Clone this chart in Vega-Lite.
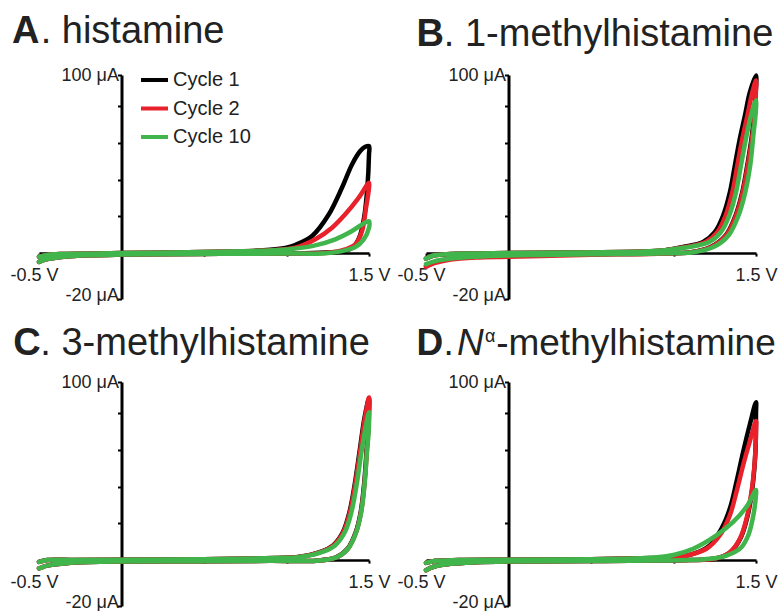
{
"$schema": "https://vega.github.io/schema/vega-lite/v6.json",
"background": "white",
"padding": {"left": 9, "top": 13, "right": 0, "bottom": 0},
"config": {"view": {"stroke": null}, "font": "Liberation Sans"},
"datasets": {"cv": [
{"p":"A","c":"Cycle 1","v":-0.5,"a":-2},{"p":"A","c":"Cycle 1","v":-0.45,"a":-1},{"p":"A","c":"Cycle 1","v":-0.35,"a":-0.5},{"p":"A","c":"Cycle 1","v":-0.2,"a":-0.3},{"p":"A","c":"Cycle 1","v":0,"a":0},{"p":"A","c":"Cycle 1","v":0.3,"a":0.3},{"p":"A","c":"Cycle 1","v":0.6,"a":0.7},{"p":"A","c":"Cycle 1","v":0.8,"a":1.2},
{"p":"A","c":"Cycle 1","v":0.9,"a":1.8},{"p":"A","c":"Cycle 1","v":1.0,"a":3.0},{"p":"A","c":"Cycle 1","v":1.053,"a":4.4},{"p":"A","c":"Cycle 1","v":1.155,"a":9.3},{"p":"A","c":"Cycle 1","v":1.256,"a":21},{"p":"A","c":"Cycle 1","v":1.336,"a":35.6},{"p":"A","c":"Cycle 1","v":1.397,"a":48.3},{"p":"A","c":"Cycle 1","v":1.447,"a":55.6},{"p":"A","c":"Cycle 1","v":1.475,"a":57.8},{"p":"A","c":"Cycle 1","v":1.5,"a":58.3},
{"p":"A","c":"Cycle 1","v":1.5,"a":53.8},{"p":"A","c":"Cycle 1","v":1.49,"a":35.6},{"p":"A","c":"Cycle 1","v":1.47,"a":19.2},{"p":"A","c":"Cycle 1","v":1.44,"a":8.3},{"p":"A","c":"Cycle 1","v":1.4,"a":2.9},{"p":"A","c":"Cycle 1","v":1.32,"a":0.7},{"p":"A","c":"Cycle 1","v":1.2,"a":0.2},
{"p":"A","c":"Cycle 1","v":1.0,"a":-0.2},{"p":"A","c":"Cycle 1","v":0.6,"a":-0.4},{"p":"A","c":"Cycle 1","v":0.2,"a":-0.6},{"p":"A","c":"Cycle 1","v":0,"a":-0.8},{"p":"A","c":"Cycle 1","v":-0.2,"a":-1.2},{"p":"A","c":"Cycle 1","v":-0.35,"a":-2},{"p":"A","c":"Cycle 1","v":-0.45,"a":-3.3},{"p":"A","c":"Cycle 1","v":-0.5,"a":-4.8},

{"p":"A","c":"Cycle 2","v":-0.5,"a":-2},{"p":"A","c":"Cycle 2","v":-0.45,"a":-1},{"p":"A","c":"Cycle 2","v":-0.35,"a":-0.5},{"p":"A","c":"Cycle 2","v":-0.2,"a":-0.3},{"p":"A","c":"Cycle 2","v":0,"a":0},{"p":"A","c":"Cycle 2","v":0.3,"a":0.3},{"p":"A","c":"Cycle 2","v":0.6,"a":0.7},{"p":"A","c":"Cycle 2","v":0.8,"a":1.2},
{"p":"A","c":"Cycle 2","v":0.9,"a":1.5},{"p":"A","c":"Cycle 2","v":1.053,"a":2.9},{"p":"A","c":"Cycle 2","v":1.175,"a":7.5},{"p":"A","c":"Cycle 2","v":1.276,"a":13.8},{"p":"A","c":"Cycle 2","v":1.356,"a":21.1},{"p":"A","c":"Cycle 2","v":1.438,"a":30.2},{"p":"A","c":"Cycle 2","v":1.5,"a":38.3},
{"p":"A","c":"Cycle 2","v":1.5,"a":35.6},{"p":"A","c":"Cycle 2","v":1.482,"a":24.7},{"p":"A","c":"Cycle 2","v":1.458,"a":12},{"p":"A","c":"Cycle 2","v":1.417,"a":4.7},{"p":"A","c":"Cycle 2","v":1.356,"a":2.0},{"p":"A","c":"Cycle 2","v":1.256,"a":0.2},
{"p":"A","c":"Cycle 2","v":1.0,"a":-0.2},{"p":"A","c":"Cycle 2","v":0.6,"a":-0.4},{"p":"A","c":"Cycle 2","v":0.2,"a":-0.6},{"p":"A","c":"Cycle 2","v":0,"a":-0.8},{"p":"A","c":"Cycle 2","v":-0.2,"a":-1.2},{"p":"A","c":"Cycle 2","v":-0.35,"a":-2},{"p":"A","c":"Cycle 2","v":-0.45,"a":-3.3},{"p":"A","c":"Cycle 2","v":-0.5,"a":-4.8},

{"p":"A","c":"Cycle 10","v":-0.5,"a":-2},{"p":"A","c":"Cycle 10","v":-0.45,"a":-1},{"p":"A","c":"Cycle 10","v":-0.35,"a":-0.5},{"p":"A","c":"Cycle 10","v":-0.2,"a":-0.3},{"p":"A","c":"Cycle 10","v":0,"a":0},{"p":"A","c":"Cycle 10","v":0.3,"a":0.3},{"p":"A","c":"Cycle 10","v":0.6,"a":0.7},{"p":"A","c":"Cycle 10","v":0.8,"a":1.2},
{"p":"A","c":"Cycle 10","v":0.9,"a":1.4},{"p":"A","c":"Cycle 10","v":1.0,"a":2.0},{"p":"A","c":"Cycle 10","v":1.155,"a":3.8},{"p":"A","c":"Cycle 10","v":1.296,"a":7.5},{"p":"A","c":"Cycle 10","v":1.397,"a":12},{"p":"A","c":"Cycle 10","v":1.458,"a":15.6},{"p":"A","c":"Cycle 10","v":1.5,"a":17.4},
{"p":"A","c":"Cycle 10","v":1.5,"a":13.8},{"p":"A","c":"Cycle 10","v":1.468,"a":7.5},{"p":"A","c":"Cycle 10","v":1.417,"a":3.3},{"p":"A","c":"Cycle 10","v":1.336,"a":1.1},{"p":"A","c":"Cycle 10","v":1.215,"a":-0.2},
{"p":"A","c":"Cycle 10","v":1.0,"a":-0.2},{"p":"A","c":"Cycle 10","v":0.6,"a":-0.4},{"p":"A","c":"Cycle 10","v":0.2,"a":-0.6},{"p":"A","c":"Cycle 10","v":0,"a":-0.8},{"p":"A","c":"Cycle 10","v":-0.2,"a":-1.2},{"p":"A","c":"Cycle 10","v":-0.35,"a":-2},{"p":"A","c":"Cycle 10","v":-0.45,"a":-3.3},{"p":"A","c":"Cycle 10","v":-0.5,"a":-4.8},

{"p":"B","c":"Cycle 1","v":-0.5,"a":-3},{"p":"B","c":"Cycle 1","v":-0.45,"a":-1.2},{"p":"B","c":"Cycle 1","v":-0.35,"a":-0.5},{"p":"B","c":"Cycle 1","v":-0.2,"a":-0.2},{"p":"B","c":"Cycle 1","v":0,"a":0},{"p":"B","c":"Cycle 1","v":0.4,"a":0.3},{"p":"B","c":"Cycle 1","v":0.7,"a":0.6},{"p":"B","c":"Cycle 1","v":0.85,"a":1.0},{"p":"B","c":"Cycle 1","v":0.95,"a":1.6},
{"p":"B","c":"Cycle 1","v":1.057,"a":3.3},{"p":"B","c":"Cycle 1","v":1.179,"a":6.0},{"p":"B","c":"Cycle 1","v":1.25,"a":11.4},{"p":"B","c":"Cycle 1","v":1.301,"a":20.5},{"p":"B","c":"Cycle 1","v":1.342,"a":33.2},{"p":"B","c":"Cycle 1","v":1.372,"a":47.8},{"p":"B","c":"Cycle 1","v":1.402,"a":62.3},{"p":"B","c":"Cycle 1","v":1.433,"a":75.0},{"p":"B","c":"Cycle 1","v":1.463,"a":87.7},{"p":"B","c":"Cycle 1","v":1.5,"a":96.8},
{"p":"B","c":"Cycle 1","v":1.496,"a":85},{"p":"B","c":"Cycle 1","v":1.478,"a":65.9},{"p":"B","c":"Cycle 1","v":1.447,"a":47.8},{"p":"B","c":"Cycle 1","v":1.417,"a":33.2},{"p":"B","c":"Cycle 1","v":1.376,"a":20.5},{"p":"B","c":"Cycle 1","v":1.316,"a":9.6},{"p":"B","c":"Cycle 1","v":1.225,"a":3.3},{"p":"B","c":"Cycle 1","v":1.105,"a":0.5},
{"p":"B","c":"Cycle 1","v":0.9,"a":-0.2},{"p":"B","c":"Cycle 1","v":0.5,"a":-0.6},{"p":"B","c":"Cycle 1","v":0.2,"a":-1.0},{"p":"B","c":"Cycle 1","v":0,"a":-1.3},{"p":"B","c":"Cycle 1","v":-0.2,"a":-2.0},{"p":"B","c":"Cycle 1","v":-0.35,"a":-3},{"p":"B","c":"Cycle 1","v":-0.45,"a":-5},{"p":"B","c":"Cycle 1","v":-0.5,"a":-7},

{"p":"B","c":"Cycle 2","v":-0.5,"a":-3},{"p":"B","c":"Cycle 2","v":-0.45,"a":-1.2},{"p":"B","c":"Cycle 2","v":-0.35,"a":-0.5},{"p":"B","c":"Cycle 2","v":-0.2,"a":-0.2},{"p":"B","c":"Cycle 2","v":0,"a":0},{"p":"B","c":"Cycle 2","v":0.4,"a":0.3},{"p":"B","c":"Cycle 2","v":0.7,"a":0.6},{"p":"B","c":"Cycle 2","v":0.85,"a":1.0},{"p":"B","c":"Cycle 2","v":0.95,"a":1.6},
{"p":"B","c":"Cycle 2","v":1.072,"a":3.3},{"p":"B","c":"Cycle 2","v":1.194,"a":6},{"p":"B","c":"Cycle 2","v":1.265,"a":11.4},{"p":"B","c":"Cycle 2","v":1.316,"a":20.5},{"p":"B","c":"Cycle 2","v":1.357,"a":33.2},{"p":"B","c":"Cycle 2","v":1.387,"a":47.8},{"p":"B","c":"Cycle 2","v":1.417,"a":62.3},{"p":"B","c":"Cycle 2","v":1.448,"a":75},{"p":"B","c":"Cycle 2","v":1.478,"a":87.7},{"p":"B","c":"Cycle 2","v":1.5,"a":94},
{"p":"B","c":"Cycle 2","v":1.497,"a":84},{"p":"B","c":"Cycle 2","v":1.481,"a":65.9},{"p":"B","c":"Cycle 2","v":1.45,"a":47.8},{"p":"B","c":"Cycle 2","v":1.42,"a":33.2},{"p":"B","c":"Cycle 2","v":1.379,"a":20.5},{"p":"B","c":"Cycle 2","v":1.319,"a":9.6},{"p":"B","c":"Cycle 2","v":1.228,"a":3.3},{"p":"B","c":"Cycle 2","v":1.108,"a":0.5},
{"p":"B","c":"Cycle 2","v":0.9,"a":-0.3},{"p":"B","c":"Cycle 2","v":0.5,"a":-0.9},{"p":"B","c":"Cycle 2","v":0.2,"a":-1.6},{"p":"B","c":"Cycle 2","v":0,"a":-2},{"p":"B","c":"Cycle 2","v":-0.2,"a":-2.4},{"p":"B","c":"Cycle 2","v":-0.35,"a":-3.5},{"p":"B","c":"Cycle 2","v":-0.45,"a":-5.5},{"p":"B","c":"Cycle 2","v":-0.5,"a":-7.5},

{"p":"B","c":"Cycle 10","v":-0.5,"a":-3},{"p":"B","c":"Cycle 10","v":-0.45,"a":-1.2},{"p":"B","c":"Cycle 10","v":-0.35,"a":-0.5},{"p":"B","c":"Cycle 10","v":-0.2,"a":-0.2},{"p":"B","c":"Cycle 10","v":0,"a":0},{"p":"B","c":"Cycle 10","v":0.4,"a":0.3},{"p":"B","c":"Cycle 10","v":0.7,"a":0.6},{"p":"B","c":"Cycle 10","v":0.85,"a":1.0},{"p":"B","c":"Cycle 10","v":0.95,"a":1.6},
{"p":"B","c":"Cycle 10","v":1.094,"a":3.3},{"p":"B","c":"Cycle 10","v":1.216,"a":6},{"p":"B","c":"Cycle 10","v":1.287,"a":11.4},{"p":"B","c":"Cycle 10","v":1.338,"a":20.5},{"p":"B","c":"Cycle 10","v":1.379,"a":33.2},{"p":"B","c":"Cycle 10","v":1.409,"a":47.8},{"p":"B","c":"Cycle 10","v":1.439,"a":62.3},{"p":"B","c":"Cycle 10","v":1.47,"a":75},{"p":"B","c":"Cycle 10","v":1.5,"a":83.2},
{"p":"B","c":"Cycle 10","v":1.497,"a":75},{"p":"B","c":"Cycle 10","v":1.486,"a":65.9},{"p":"B","c":"Cycle 10","v":1.465,"a":47.8},{"p":"B","c":"Cycle 10","v":1.435,"a":33.2},{"p":"B","c":"Cycle 10","v":1.394,"a":20.5},{"p":"B","c":"Cycle 10","v":1.333,"a":9.6},{"p":"B","c":"Cycle 10","v":1.242,"a":3.3},{"p":"B","c":"Cycle 10","v":1.12,"a":0.5},
{"p":"B","c":"Cycle 10","v":0.9,"a":-0.2},{"p":"B","c":"Cycle 10","v":0.5,"a":-0.6},{"p":"B","c":"Cycle 10","v":0.2,"a":-1.0},{"p":"B","c":"Cycle 10","v":0,"a":-1.3},{"p":"B","c":"Cycle 10","v":-0.2,"a":-2.0},{"p":"B","c":"Cycle 10","v":-0.35,"a":-3},{"p":"B","c":"Cycle 10","v":-0.45,"a":-4.5},{"p":"B","c":"Cycle 10","v":-0.5,"a":-6},

{"p":"C","c":"Cycle 1","v":-0.5,"a":-1},{"p":"C","c":"Cycle 1","v":-0.45,"a":0},{"p":"C","c":"Cycle 1","v":-0.3,"a":0.1},{"p":"C","c":"Cycle 1","v":0,"a":0.2},{"p":"C","c":"Cycle 1","v":0.5,"a":0.5},{"p":"C","c":"Cycle 1","v":0.8,"a":0.9},{"p":"C","c":"Cycle 1","v":0.95,"a":1.2},
{"p":"C","c":"Cycle 1","v":1.059,"a":1.5},{"p":"C","c":"Cycle 1","v":1.201,"a":4.3},{"p":"C","c":"Cycle 1","v":1.282,"a":8.0},{"p":"C","c":"Cycle 1","v":1.342,"a":15.3},{"p":"C","c":"Cycle 1","v":1.382,"a":26.3},{"p":"C","c":"Cycle 1","v":1.413,"a":41.0},{"p":"C","c":"Cycle 1","v":1.443,"a":59.3},{"p":"C","c":"Cycle 1","v":1.473,"a":77.7},{"p":"C","c":"Cycle 1","v":1.5,"a":88},
{"p":"C","c":"Cycle 1","v":1.497,"a":75},{"p":"C","c":"Cycle 1","v":1.485,"a":59.3},{"p":"C","c":"Cycle 1","v":1.47,"a":41},{"p":"C","c":"Cycle 1","v":1.45,"a":26.3},{"p":"C","c":"Cycle 1","v":1.42,"a":15.3},{"p":"C","c":"Cycle 1","v":1.37,"a":6.2},{"p":"C","c":"Cycle 1","v":1.3,"a":1.5},{"p":"C","c":"Cycle 1","v":1.18,"a":-0.3},
{"p":"C","c":"Cycle 1","v":0.9,"a":-0.4},{"p":"C","c":"Cycle 1","v":0.5,"a":-0.6},{"p":"C","c":"Cycle 1","v":0,"a":-0.8},{"p":"C","c":"Cycle 1","v":-0.2,"a":-1.1},{"p":"C","c":"Cycle 1","v":-0.35,"a":-1.8},{"p":"C","c":"Cycle 1","v":-0.45,"a":-3},{"p":"C","c":"Cycle 1","v":-0.5,"a":-4.5},

{"p":"C","c":"Cycle 2","v":-0.5,"a":-1},{"p":"C","c":"Cycle 2","v":-0.45,"a":0},{"p":"C","c":"Cycle 2","v":-0.3,"a":0.1},{"p":"C","c":"Cycle 2","v":0,"a":0.2},{"p":"C","c":"Cycle 2","v":0.5,"a":0.5},{"p":"C","c":"Cycle 2","v":0.8,"a":0.9},{"p":"C","c":"Cycle 2","v":0.95,"a":1.2},
{"p":"C","c":"Cycle 2","v":1.062,"a":1.5},{"p":"C","c":"Cycle 2","v":1.204,"a":4.3},{"p":"C","c":"Cycle 2","v":1.285,"a":8.0},{"p":"C","c":"Cycle 2","v":1.345,"a":15.3},{"p":"C","c":"Cycle 2","v":1.385,"a":26.3},{"p":"C","c":"Cycle 2","v":1.416,"a":41.0},{"p":"C","c":"Cycle 2","v":1.446,"a":59.3},{"p":"C","c":"Cycle 2","v":1.476,"a":77.7},{"p":"C","c":"Cycle 2","v":1.5,"a":88.5},
{"p":"C","c":"Cycle 2","v":1.498,"a":75},{"p":"C","c":"Cycle 2","v":1.487,"a":59.3},{"p":"C","c":"Cycle 2","v":1.472,"a":41},{"p":"C","c":"Cycle 2","v":1.452,"a":26.3},{"p":"C","c":"Cycle 2","v":1.422,"a":15.3},{"p":"C","c":"Cycle 2","v":1.372,"a":6.2},{"p":"C","c":"Cycle 2","v":1.302,"a":1.5},{"p":"C","c":"Cycle 2","v":1.182,"a":-0.3},
{"p":"C","c":"Cycle 2","v":0.9,"a":-0.4},{"p":"C","c":"Cycle 2","v":0.5,"a":-0.6},{"p":"C","c":"Cycle 2","v":0,"a":-0.8},{"p":"C","c":"Cycle 2","v":-0.2,"a":-1.1},{"p":"C","c":"Cycle 2","v":-0.35,"a":-1.8},{"p":"C","c":"Cycle 2","v":-0.45,"a":-3},{"p":"C","c":"Cycle 2","v":-0.5,"a":-4.5},

{"p":"C","c":"Cycle 10","v":-0.5,"a":-1},{"p":"C","c":"Cycle 10","v":-0.45,"a":0},{"p":"C","c":"Cycle 10","v":-0.3,"a":0.1},{"p":"C","c":"Cycle 10","v":0,"a":0.2},{"p":"C","c":"Cycle 10","v":0.5,"a":0.5},{"p":"C","c":"Cycle 10","v":0.8,"a":0.9},{"p":"C","c":"Cycle 10","v":0.95,"a":1.2},
{"p":"C","c":"Cycle 10","v":1.071,"a":1.5},{"p":"C","c":"Cycle 10","v":1.213,"a":4.3},{"p":"C","c":"Cycle 10","v":1.294,"a":8.0},{"p":"C","c":"Cycle 10","v":1.354,"a":15.3},{"p":"C","c":"Cycle 10","v":1.394,"a":26.3},{"p":"C","c":"Cycle 10","v":1.425,"a":41.0},{"p":"C","c":"Cycle 10","v":1.455,"a":59.3},{"p":"C","c":"Cycle 10","v":1.483,"a":74},{"p":"C","c":"Cycle 10","v":1.5,"a":80.5},
{"p":"C","c":"Cycle 10","v":1.498,"a":70},{"p":"C","c":"Cycle 10","v":1.488,"a":59.3},{"p":"C","c":"Cycle 10","v":1.473,"a":41},{"p":"C","c":"Cycle 10","v":1.453,"a":26.3},{"p":"C","c":"Cycle 10","v":1.423,"a":15.3},{"p":"C","c":"Cycle 10","v":1.373,"a":6.2},{"p":"C","c":"Cycle 10","v":1.302,"a":1.5},{"p":"C","c":"Cycle 10","v":1.181,"a":-0.3},
{"p":"C","c":"Cycle 10","v":0.9,"a":-0.4},{"p":"C","c":"Cycle 10","v":0.5,"a":-0.6},{"p":"C","c":"Cycle 10","v":0,"a":-0.8},{"p":"C","c":"Cycle 10","v":-0.2,"a":-1.1},{"p":"C","c":"Cycle 10","v":-0.35,"a":-1.8},{"p":"C","c":"Cycle 10","v":-0.45,"a":-3},{"p":"C","c":"Cycle 10","v":-0.5,"a":-4.5},

{"p":"D","c":"Cycle 1","v":-0.5,"a":-1.5},{"p":"D","c":"Cycle 1","v":-0.45,"a":-0.5},{"p":"D","c":"Cycle 1","v":-0.3,"a":0},{"p":"D","c":"Cycle 1","v":0,"a":0.2},{"p":"D","c":"Cycle 1","v":0.5,"a":0.5},{"p":"D","c":"Cycle 1","v":0.8,"a":1.0},
{"p":"D","c":"Cycle 1","v":0.977,"a":1.5},{"p":"D","c":"Cycle 1","v":1.119,"a":3.4},{"p":"D","c":"Cycle 1","v":1.22,"a":8.0},{"p":"D","c":"Cycle 1","v":1.291,"a":17.2},{"p":"D","c":"Cycle 1","v":1.342,"a":28.2},{"p":"D","c":"Cycle 1","v":1.382,"a":42.8},{"p":"D","c":"Cycle 1","v":1.423,"a":59.3},{"p":"D","c":"Cycle 1","v":1.463,"a":74.0},{"p":"D","c":"Cycle 1","v":1.5,"a":86},
{"p":"D","c":"Cycle 1","v":1.5,"a":80},{"p":"D","c":"Cycle 1","v":1.497,"a":60},{"p":"D","c":"Cycle 1","v":1.479,"a":40},{"p":"D","c":"Cycle 1","v":1.449,"a":24},{"p":"D","c":"Cycle 1","v":1.409,"a":12.5},{"p":"D","c":"Cycle 1","v":1.348,"a":4.6},{"p":"D","c":"Cycle 1","v":1.265,"a":1.0},{"p":"D","c":"Cycle 1","v":1.1,"a":0},
{"p":"D","c":"Cycle 1","v":0.9,"a":-0.2},{"p":"D","c":"Cycle 1","v":0.5,"a":-0.5},{"p":"D","c":"Cycle 1","v":0,"a":-0.8},{"p":"D","c":"Cycle 1","v":-0.2,"a":-1.2},{"p":"D","c":"Cycle 1","v":-0.35,"a":-2},{"p":"D","c":"Cycle 1","v":-0.45,"a":-3.5},{"p":"D","c":"Cycle 1","v":-0.5,"a":-5.5},

{"p":"D","c":"Cycle 2","v":-0.5,"a":-1.5},{"p":"D","c":"Cycle 2","v":-0.45,"a":-0.5},{"p":"D","c":"Cycle 2","v":-0.3,"a":0},{"p":"D","c":"Cycle 2","v":0,"a":0.2},{"p":"D","c":"Cycle 2","v":0.5,"a":0.5},{"p":"D","c":"Cycle 2","v":0.8,"a":1.0},
{"p":"D","c":"Cycle 2","v":0.977,"a":1.3},{"p":"D","c":"Cycle 2","v":1.078,"a":2.5},{"p":"D","c":"Cycle 2","v":1.2,"a":6.2},{"p":"D","c":"Cycle 2","v":1.281,"a":13.5},{"p":"D","c":"Cycle 2","v":1.342,"a":24.5},{"p":"D","c":"Cycle 2","v":1.382,"a":37.3},{"p":"D","c":"Cycle 2","v":1.423,"a":52},{"p":"D","c":"Cycle 2","v":1.463,"a":64.8},{"p":"D","c":"Cycle 2","v":1.5,"a":75.8},
{"p":"D","c":"Cycle 2","v":1.5,"a":70},{"p":"D","c":"Cycle 2","v":1.494,"a":55.7},{"p":"D","c":"Cycle 2","v":1.473,"a":37.3},{"p":"D","c":"Cycle 2","v":1.443,"a":22.7},{"p":"D","c":"Cycle 2","v":1.403,"a":11.7},{"p":"D","c":"Cycle 2","v":1.342,"a":4.3},{"p":"D","c":"Cycle 2","v":1.26,"a":1.0},{"p":"D","c":"Cycle 2","v":1.1,"a":0},
{"p":"D","c":"Cycle 2","v":0.9,"a":-0.2},{"p":"D","c":"Cycle 2","v":0.5,"a":-0.5},{"p":"D","c":"Cycle 2","v":0,"a":-0.8},{"p":"D","c":"Cycle 2","v":-0.2,"a":-1.2},{"p":"D","c":"Cycle 2","v":-0.35,"a":-2},{"p":"D","c":"Cycle 2","v":-0.45,"a":-3.5},{"p":"D","c":"Cycle 2","v":-0.5,"a":-5.5},

{"p":"D","c":"Cycle 10","v":-0.5,"a":-1.5},{"p":"D","c":"Cycle 10","v":-0.45,"a":-0.5},{"p":"D","c":"Cycle 10","v":-0.3,"a":0},{"p":"D","c":"Cycle 10","v":0,"a":0.2},{"p":"D","c":"Cycle 10","v":0.5,"a":0.5},{"p":"D","c":"Cycle 10","v":0.8,"a":1.0},
{"p":"D","c":"Cycle 10","v":0.9,"a":1.5},{"p":"D","c":"Cycle 10","v":1.0,"a":2.8},{"p":"D","c":"Cycle 10","v":1.119,"a":6.2},{"p":"D","c":"Cycle 10","v":1.26,"a":13.5},{"p":"D","c":"Cycle 10","v":1.362,"a":20.8},{"p":"D","c":"Cycle 10","v":1.443,"a":29.1},{"p":"D","c":"Cycle 10","v":1.5,"a":38.2},
{"p":"D","c":"Cycle 10","v":1.5,"a":35.5},{"p":"D","c":"Cycle 10","v":1.484,"a":24.5},{"p":"D","c":"Cycle 10","v":1.453,"a":13.5},{"p":"D","c":"Cycle 10","v":1.403,"a":6.2},{"p":"D","c":"Cycle 10","v":1.321,"a":2.5},{"p":"D","c":"Cycle 10","v":1.22,"a":0.7},{"p":"D","c":"Cycle 10","v":1.1,"a":0},
{"p":"D","c":"Cycle 10","v":0.9,"a":-0.2},{"p":"D","c":"Cycle 10","v":0.5,"a":-0.5},{"p":"D","c":"Cycle 10","v":0,"a":-0.8},{"p":"D","c":"Cycle 10","v":-0.2,"a":-1.2},{"p":"D","c":"Cycle 10","v":-0.35,"a":-2},{"p":"D","c":"Cycle 10","v":-0.45,"a":-3.5},{"p":"D","c":"Cycle 10","v":-0.5,"a":-5.5}
]},
"columns": 2,
"spacing": {"row": 83, "column": 57},
"bounds": "flush",
"resolve": {"scale": {"color": "independent"}, "legend": {"color": "independent"}},
"concat": [
{
 "width": 330, "height": 224,
 "layer": [
  {"data": {"name": "cv"}, "transform": [{"filter": "datum.p == 'A'"}],
   "mark": {"type": "line", "strokeWidth": 4.5, "strokeJoin": "round", "strokeCap": "round", "interpolate": "catmull-rom"},
   "encoding": {
    "x": {"field": "v", "type": "quantitative", "scale": {"domain": [-0.5, 1.5], "nice": false, "zero": false},
      "axis": {"orient": "bottom", "offset": -45.9, "values": [-0.5, 0.5, 1, 1.5], "labelExpr": "datum.value == -0.5 ? '-0.5 V' : (datum.value == 1.5 ? '1.5 V' : '')", "title": null, "grid": false, "domainColor": "#000000", "domainWidth": 2.5, "tickColor": "#000000", "tickWidth": 2, "tickSize": 3, "labelFont": "Liberation Sans", "labelFontSize": 18, "labelColor": "#222222", "labelPadding": 10, "labelFlush": false, "labelOverlap": false, "labelOffset": {"condition": {"test": "datum.value < 0", "value": -5}, "value": 0}}},
    "y": {"field": "a", "type": "quantitative", "scale": {"domain": [-25, 97], "nice": false, "zero": false},
      "axis": {"orient": "left", "offset": -82.5, "values": [-25, 20, 40, 60, 80, 97], "labelExpr": "datum.value > 90 ? '100 μA' : (datum.value < 0 ? '-20 μA' : '')", "title": null, "grid": false, "domainColor": "#000000", "domainWidth": 3, "tickColor": "#000000", "tickWidth": 2, "tickSize": 4, "labelFont": "Liberation Sans", "labelFontSize": 18, "labelColor": "#222222", "labelPadding": -1, "labelFlush": false, "labelOverlap": false, "labelOffset": {"condition": {"test": "datum.value < 0", "value": -4}, "value": 0}}},
    "color": {"field": "c", "type": "nominal", "scale": {"domain": ["Cycle 1", "Cycle 2", "Cycle 10"], "range": ["#000000", "#e8212b", "#3fb54b"]},
      "legend": {"orient": "none", "legendX": 100, "legendY": -10.5, "title": null, "symbolType": "stroke", "symbolStrokeWidth": 4, "symbolSize": 729, "labelFont": "Liberation Sans", "labelFontSize": 20, "labelColor": "#222222", "labelOffset": 3, "rowPadding": 2.5, "padding": 0}},
    "order": {"value": null}
   }},
  {"data": {"values": [{"t": "A"}]}, "mark": {"type": "text", "font": "Liberation Sans", "fontSize": 38, "fontWeight": "bold", "align": "left", "baseline": "alphabetic", "color": "#222222"}, "encoding": {"text": {"field": "t"}, "x": {"datum": -0.664}, "y": {"datum": 114.3}}},
  {"data": {"values": [{"t": ". histamine"}]}, "mark": {"type": "text", "font": "Liberation Sans", "fontSize": 38, "align": "left", "baseline": "alphabetic", "color": "#222222"}, "encoding": {"text": {"field": "t"}, "x": {"datum": -0.49}, "y": {"datum": 114.3}}}
 ]
},
{
 "width": 330, "height": 224,
 "layer": [
  {"data": {"name": "cv"}, "transform": [{"filter": "datum.p == 'B'"}],
   "mark": {"type": "line", "strokeWidth": 4.5, "strokeJoin": "round", "strokeCap": "round", "interpolate": "catmull-rom"},
   "encoding": {
    "x": {"field": "v", "type": "quantitative", "scale": {"domain": [-0.5, 1.5], "nice": false, "zero": false},
      "axis": {"orient": "bottom", "offset": -45.9, "values": [-0.5, 0.5, 1, 1.5], "labelExpr": "datum.value == -0.5 ? '-0.5 V' : (datum.value == 1.5 ? '1.5 V' : '')", "title": null, "grid": false, "domainColor": "#000000", "domainWidth": 2.5, "tickColor": "#000000", "tickWidth": 2, "tickSize": 3, "labelFont": "Liberation Sans", "labelFontSize": 18, "labelColor": "#222222", "labelPadding": 10, "labelFlush": false, "labelOverlap": false, "labelOffset": {"condition": {"test": "datum.value < 0", "value": -5}, "value": 0}}},
    "y": {"field": "a", "type": "quantitative", "scale": {"domain": [-25, 97], "nice": false, "zero": false},
      "axis": {"orient": "left", "offset": -82.5, "values": [-25, 20, 40, 60, 80, 97], "labelExpr": "datum.value > 90 ? '100 μA' : (datum.value < 0 ? '-20 μA' : '')", "title": null, "grid": false, "domainColor": "#000000", "domainWidth": 3, "tickColor": "#000000", "tickWidth": 2, "tickSize": 4, "labelFont": "Liberation Sans", "labelFontSize": 18, "labelColor": "#222222", "labelPadding": -1, "labelFlush": false, "labelOverlap": false, "labelOffset": {"condition": {"test": "datum.value < 0", "value": -4}, "value": 0}}},
    "color": {"field": "c", "type": "nominal", "scale": {"domain": ["Cycle 1", "Cycle 2", "Cycle 10"], "range": ["#000000", "#e8212b", "#3fb54b"]}, "legend": null},
    "order": {"value": null}
   }},
  {"data": {"values": [{"t": "B"}]}, "mark": {"type": "text", "font": "Liberation Sans", "fontSize": 38, "fontWeight": "bold", "align": "left", "baseline": "alphabetic", "color": "#222222"}, "encoding": {"text": {"field": "t"}, "x": {"datum": -0.558}, "y": {"datum": 112.8}}},
  {"data": {"values": [{"t": ". 1-methylhistamine"}]}, "mark": {"type": "text", "font": "Liberation Sans", "fontSize": 38, "align": "left", "baseline": "alphabetic", "color": "#222222"}, "encoding": {"text": {"field": "t"}, "x": {"datum": -0.392}, "y": {"datum": 112.8}}}
 ]
},
{
 "width": 330, "height": 224,
 "layer": [
  {"data": {"name": "cv"}, "transform": [{"filter": "datum.p == 'C'"}],
   "mark": {"type": "line", "strokeWidth": 4.5, "strokeJoin": "round", "strokeCap": "round", "interpolate": "catmull-rom"},
   "encoding": {
    "x": {"field": "v", "type": "quantitative", "scale": {"domain": [-0.5, 1.5], "nice": false, "zero": false},
      "axis": {"orient": "bottom", "offset": -45.9, "values": [-0.5, 0.5, 1, 1.5], "labelExpr": "datum.value == -0.5 ? '-0.5 V' : (datum.value == 1.5 ? '1.5 V' : '')", "title": null, "grid": false, "domainColor": "#000000", "domainWidth": 2.5, "tickColor": "#000000", "tickWidth": 2, "tickSize": 3, "labelFont": "Liberation Sans", "labelFontSize": 18, "labelColor": "#222222", "labelPadding": 10, "labelFlush": false, "labelOverlap": false, "labelOffset": {"condition": {"test": "datum.value < 0", "value": -5}, "value": 0}}},
    "y": {"field": "a", "type": "quantitative", "scale": {"domain": [-25, 97], "nice": false, "zero": false},
      "axis": {"orient": "left", "offset": -82.5, "values": [-25, 20, 40, 60, 80, 97], "labelExpr": "datum.value > 90 ? '100 μA' : (datum.value < 0 ? '-20 μA' : '')", "title": null, "grid": false, "domainColor": "#000000", "domainWidth": 3, "tickColor": "#000000", "tickWidth": 2, "tickSize": 4, "labelFont": "Liberation Sans", "labelFontSize": 18, "labelColor": "#222222", "labelPadding": -1, "labelFlush": false, "labelOverlap": false, "labelOffset": {"condition": {"test": "datum.value < 0", "value": -4}, "value": 0}}},
    "color": {"field": "c", "type": "nominal", "scale": {"domain": ["Cycle 1", "Cycle 2", "Cycle 10"], "range": ["#000000", "#e8212b", "#3fb54b"]}, "legend": null},
    "order": {"value": null}
   }},
  {"data": {"values": [{"t": "C"}]}, "mark": {"type": "text", "font": "Liberation Sans", "fontSize": 38, "fontWeight": "bold", "align": "left", "baseline": "alphabetic", "color": "#222222"}, "encoding": {"text": {"field": "t"}, "x": {"datum": -0.656}, "y": {"datum": 111.7}}},
  {"data": {"values": [{"t": ". 3-methylhistamine"}]}, "mark": {"type": "text", "font": "Liberation Sans", "fontSize": 38, "align": "left", "baseline": "alphabetic", "color": "#222222"}, "encoding": {"text": {"field": "t"}, "x": {"datum": -0.492}, "y": {"datum": 111.7}}}
 ]
},
{
 "width": 330, "height": 224,
 "layer": [
  {"data": {"name": "cv"}, "transform": [{"filter": "datum.p == 'D'"}],
   "mark": {"type": "line", "strokeWidth": 4.5, "strokeJoin": "round", "strokeCap": "round", "interpolate": "catmull-rom"},
   "encoding": {
    "x": {"field": "v", "type": "quantitative", "scale": {"domain": [-0.5, 1.5], "nice": false, "zero": false},
      "axis": {"orient": "bottom", "offset": -45.9, "values": [-0.5, 0.5, 1, 1.5], "labelExpr": "datum.value == -0.5 ? '-0.5 V' : (datum.value == 1.5 ? '1.5 V' : '')", "title": null, "grid": false, "domainColor": "#000000", "domainWidth": 2.5, "tickColor": "#000000", "tickWidth": 2, "tickSize": 3, "labelFont": "Liberation Sans", "labelFontSize": 18, "labelColor": "#222222", "labelPadding": 10, "labelFlush": false, "labelOverlap": false, "labelOffset": {"condition": {"test": "datum.value < 0", "value": -5}, "value": 0}}},
    "y": {"field": "a", "type": "quantitative", "scale": {"domain": [-25, 97], "nice": false, "zero": false},
      "axis": {"orient": "left", "offset": -82.5, "values": [-25, 20, 40, 60, 80, 97], "labelExpr": "datum.value > 90 ? '100 μA' : (datum.value < 0 ? '-20 μA' : '')", "title": null, "grid": false, "domainColor": "#000000", "domainWidth": 3, "tickColor": "#000000", "tickWidth": 2, "tickSize": 4, "labelFont": "Liberation Sans", "labelFontSize": 18, "labelColor": "#222222", "labelPadding": -1, "labelFlush": false, "labelOverlap": false, "labelOffset": {"condition": {"test": "datum.value < 0", "value": -4}, "value": 0}}},
    "color": {"field": "c", "type": "nominal", "scale": {"domain": ["Cycle 1", "Cycle 2", "Cycle 10"], "range": ["#000000", "#e8212b", "#3fb54b"]}, "legend": null},
    "order": {"value": null}
   }},
  {"data": {"values": [{"t": "D"}]}, "mark": {"type": "text", "font": "Liberation Sans", "fontSize": 37, "fontWeight": "bold", "align": "left", "baseline": "alphabetic", "color": "#222222"}, "encoding": {"text": {"field": "t"}, "x": {"datum": -0.558}, "y": {"datum": 111.7}}},
  {"data": {"values": [{"t": "."}]}, "mark": {"type": "text", "font": "Liberation Sans", "fontSize": 37, "align": "left", "baseline": "alphabetic", "color": "#222222"}, "encoding": {"text": {"field": "t"}, "x": {"datum": -0.394}, "y": {"datum": 111.7}}},
  {"data": {"values": [{"t": "N"}]}, "mark": {"type": "text", "font": "Liberation Sans", "fontSize": 37, "fontStyle": "italic", "align": "left", "baseline": "alphabetic", "color": "#222222"}, "encoding": {"text": {"field": "t"}, "x": {"datum": -0.312}, "y": {"datum": 111.7}}},
  {"data": {"values": [{"t": "α"}]}, "mark": {"type": "text", "font": "Liberation Sans", "fontSize": 18, "align": "left", "baseline": "alphabetic", "color": "#222222"}, "encoding": {"text": {"field": "t"}, "x": {"datum": -0.142}, "y": {"datum": 118.8}}},
  {"data": {"values": [{"t": "-methylhistamine"}]}, "mark": {"type": "text", "font": "Liberation Sans", "fontSize": 37, "align": "left", "baseline": "alphabetic", "color": "#222222"}, "encoding": {"text": {"field": "t"}, "x": {"datum": -0.075}, "y": {"datum": 111.7}}}
 ]
}
]
}
